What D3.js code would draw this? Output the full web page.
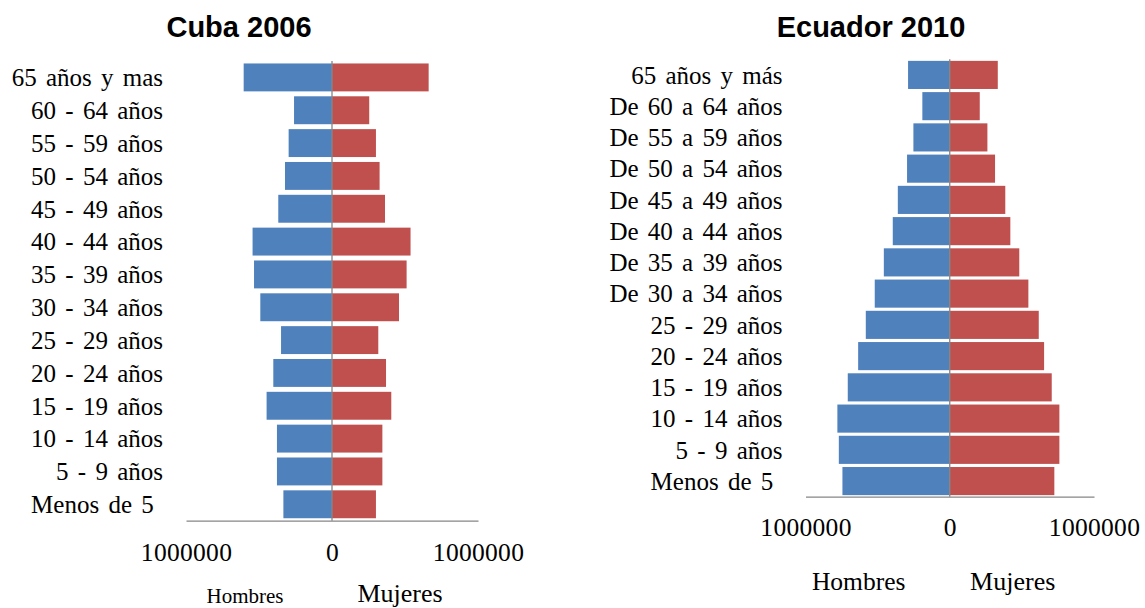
<!DOCTYPE html>
<html>
<head>
<meta charset="utf-8">
<script src="https://cdn.jsdelivr.net/npm/d3@7"></script>
<style>
  html, body { margin: 0; padding: 0; background: #fff; }
  svg { display: block; }
  .cat text { white-space: pre; }
</style>
</head>
<body>
<svg id="chart" width="1145" height="608"></svg>
<script>
// ---------- DATA ----------
const cubaTitle = "Cuba 2006";
const cubaCategories = ["65 años y mas", "60 - 64 años", "55 - 59 años", "50 - 54 años", "45 - 49 años",
  "40 - 44 años", "35 - 39 años", "30 - 34 años", "25 - 29 años", "20 - 24 años",
  "15 - 19 años", "10 - 14 años", "5 - 9 años", "Menos de 5 "];
const cubaHombres = [605000, 260000, 297000, 322000, 368000, 544000, 534000, 491000, 349000, 402000, 448000, 377000, 377000, 333000];
const cubaMujeres = [662000, 255000, 301000, 326000, 363000, 538000, 511000, 459000, 317000, 370000, 406000, 345000, 345000, 301000];

const ecuadorTitle = "Ecuador 2010";
const ecuadorCategories = ["65 años y más", "De 60 a 64 años", "De 55 a 59 años", "De 50 a 54 años", "De 45 a 49 años",
  "De 40 a 44 años", "De 35 a 39 años", "De 30 a 34 años", "25 - 29 años", "20 - 24 años",
  "15 - 19 años", "10 - 14 años", "5 - 9 años", "Menos de 5 "];
const ecuadorHombres = [289000, 190000, 252000, 296000, 360000, 395000, 457000, 520000, 582000, 635000, 707000, 779000, 769000, 744000];
const ecuadorMujeres = [333000, 208000, 261000, 314000, 385000, 420000, 482000, 545000, 617000, 654000, 707000, 760000, 760000, 725000];

const tickValues = [-1000000, 0, 1000000];
const tickLabels = ["1000000", "0", "1000000"];
const seriesNames = ["Hombres", "Mujeres"];

// ---------- STYLE ----------
const colorHombres = "#4F81BD";
const colorMujeres = "#C0504D";
const axisColor = "#868686";
const serif = "'Liberation Serif', 'Times New Roman', serif";
const sans = "'Liberation Sans', Arial, sans-serif";

const svg = d3.select("#chart");

function pyramid(cfg) {
  const g = svg.append("g");
  const x = d3.scaleLinear().domain([-1000000, 1000000]).range([cfg.x0, cfg.x1]);
  const y = d3.scaleBand().domain(cfg.categories).range([cfg.top, cfg.bottom])
    .paddingInner(cfg.padIn).paddingOuter(cfg.padIn / 2);

  // bars
  g.append("g").selectAll("rect").data(cfg.categories).join("rect")
    .attr("x", (d, i) => x(-cfg.hombres[i]))
    .attr("y", d => y(d))
    .attr("width", (d, i) => x(0) - x(-cfg.hombres[i]))
    .attr("height", y.bandwidth())
    .attr("fill", colorHombres);
  g.append("g").selectAll("rect").data(cfg.categories).join("rect")
    .attr("x", x(0))
    .attr("y", d => y(d))
    .attr("width", (d, i) => x(cfg.mujeres[i]) - x(0))
    .attr("height", y.bandwidth())
    .attr("fill", colorMujeres);

  // vertical zero line
  g.append("line")
    .attr("x1", x(0)).attr("x2", x(0))
    .attr("y1", cfg.top).attr("y2", cfg.bottom)
    .attr("stroke", axisColor).attr("stroke-width", 1.3);

  // bottom axis
  const xAxis = d3.axisBottom(x).tickValues(tickValues)
    .tickFormat((d, i) => tickLabels[i]).tickSize(0).tickPadding(cfg.tickPad).tickSizeOuter(0);
  const ax = g.append("g").attr("transform", `translate(0,${cfg.bottom})`).call(xAxis);
  ax.select(".domain").attr("stroke", axisColor).attr("stroke-width", 1.3);
  ax.selectAll("text").attr("font-family", serif).attr("font-size", 25.5)
    .attr("letter-spacing", 0.3).attr("fill", "#000");

  // category axis labels
  const yAxis = d3.axisLeft(y).tickSize(0).tickPadding(0);
  const ay = g.append("g").attr("class", "cat").attr("transform", `translate(${cfg.labelX},0)`).call(yAxis);
  ay.select(".domain").remove();
  ay.selectAll("text").attr("font-family", serif).attr("font-size", 25)
    .attr("word-spacing", 3).attr("fill", "#000").attr("dy", "0.35em");

  // title
  g.append("text").attr("x", cfg.titleX).attr("y", 37)
    .attr("text-anchor", "middle").attr("font-family", sans).attr("font-weight", "bold")
    .attr("font-size", 29).attr("fill", "#000").text(cfg.title);

  // series labels
  cfg.legend.forEach((l, i) => {
    g.append("text").attr("x", l.x).attr("y", l.y).attr("text-anchor", "middle")
      .attr("font-family", serif).attr("font-size", l.size).attr("fill", "#000")
      .text(seriesNames[i]);
  });
}

pyramid({
  title: cubaTitle, titleX: 239,
  categories: cubaCategories, hombres: cubaHombres, mujeres: cubaMujeres,
  x0: 186, x1: 478, top: 61, bottom: 520.7, padIn: 0.15,
  tickPad: 22.5, labelX: 163,
  legend: [{x: 245, y: 603, size: 21}, {x: 400, y: 602, size: 26}]
});

pyramid({
  title: ecuadorTitle, titleX: 871,
  categories: ecuadorCategories, hombres: ecuadorHombres, mujeres: ecuadorMujeres,
  x0: 805.5, x1: 1094, top: 59.3, bottom: 496.7, padIn: 0.1,
  tickPad: 21.5, labelX: 782.5,
  legend: [{x: 858.7, y: 590, size: 25.5}, {x: 1012.7, y: 590, size: 26}]
});
</script>
</body>
</html>
